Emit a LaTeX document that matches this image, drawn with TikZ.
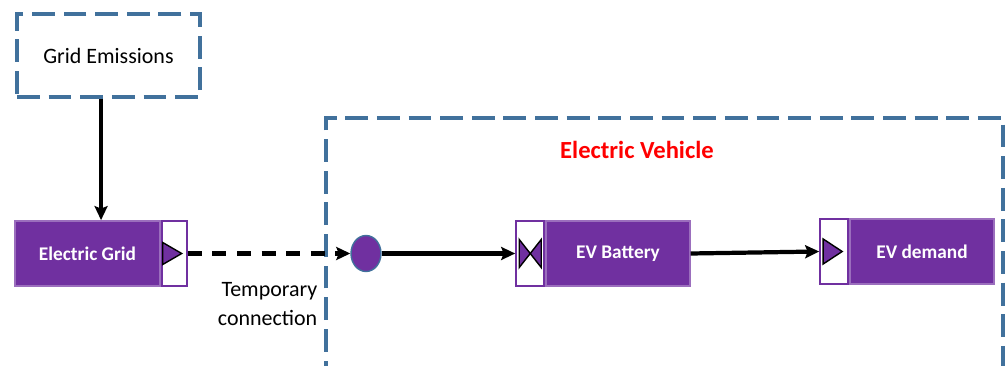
\documentclass[tikz,border=0pt]{standalone}
\usepackage{fontspec}
\setmainfont{Carlito}
\usetikzlibrary{arrows.meta,shapes.geometric,calc}

\definecolor{evpurple}{HTML}{7030A0}
\definecolor{evblue}{HTML}{41719C}
\definecolor{evred}{HTML}{FF0000}

\begin{document}
\begin{tikzpicture}[thick,
  blockbody/.style={draw=evpurple!70, fill=evpurple, text=white,
    font=\fontsize{11}{13}\selectfont\bfseries, minimum height=1.3cm, inner sep=0pt},
  portbox/.style={draw=evpurple, line width=1.2pt, fill=white,
    minimum height=1.3cm, inner sep=0pt},
  evbound/.style={draw=evblue, line width=2.2pt, dash pattern=on 13pt off 5pt},
  flowarrow/.style={line width=2.4pt, -{Stealth[length=2.8mm,width=2.6mm,inset=0.5mm]}},
  portmark/.style={draw=black, fill=evpurple, line width=0.8pt, line join=miter},
  textlbl/.style={font=\fontsize{12.5}{16.5}\selectfont}
]
  \useasboundingbox (0,0) rectangle (20.14,7.30);

  % -- Grid emissions --
  \node[evbound, textlbl, minimum width=3.66cm, minimum height=1.66cm] (emis) at (2.17,6.19) {Grid Emissions};

  % -- Electric grid --
  \node[blockbody, minimum width=2.9cm] (grid) at (1.75,2.23) {Electric Grid};
  \node[portbox, minimum width=0.5cm, anchor=west] (gridport) at (grid.east) {};
  \draw[portmark] (gridport.west) ++(0.04,0.22) -- ++(0.38,-0.22) -- ++(-0.38,-0.22) -- cycle;
  \coordinate (gridtop) at ($(grid.north west)!0.5!(gridport.north east)$);
  \draw[flowarrow] (emis.south -| gridtop) -- (gridtop);

  % -- Electric vehicle boundary --
  \draw[evbound] (6.52,-1) -- (6.52,4.94) -- (20.06,4.94) -- (20.06,-1);
  \node[font=\fontsize{14}{16}\selectfont\bfseries, text=evred] (evtitle) at (12.74,4.30) {Electric Vehicle};

  % -- Connection hub --
  \node[ellipse, draw=evblue, fill=evpurple, minimum width=0.6cm, minimum height=0.72cm, inner sep=0pt] (hub) at (7.32,2.23) {};

  % -- Temporary connection --
  \draw[flowarrow, line width=2.8pt, dash pattern=on 8pt off 6pt] (gridport.east) -- (hub.west);
  \node[textlbl, align=right, anchor=east, inner sep=0pt] (tmplbl) at (6.36,1.21) {Temporary\\connection};

  % -- EV battery --
  \node[blockbody, minimum width=2.88cm] (bat) at (12.36,2.23) {EV Battery};
  \node[portbox, minimum width=0.56cm, anchor=east] (batport) at (bat.west) {};
  \draw[portmark] (batport.center) -- ++(-0.22,0.28) -- ++(0,-0.56) -- cycle;
  \draw[portmark] (batport.center) -- ++(0.22,0.28) -- ++(0,-0.56) -- cycle;
  \draw[flowarrow] (hub.east) -- (batport.west);

  % -- EV demand --
  \node[blockbody, minimum width=2.88cm] (dem) at (18.44,2.27) {EV demand};
  \node[portbox, minimum width=0.56cm, anchor=east] (demport) at (dem.west) {};
  \draw[portmark] (demport.west) ++(0.08,0.25) -- ++(0.38,-0.25) -- ++(-0.38,-0.25) -- cycle;
  \draw[flowarrow] (bat.east) -- (demport.west);

\end{tikzpicture}
\end{document}
